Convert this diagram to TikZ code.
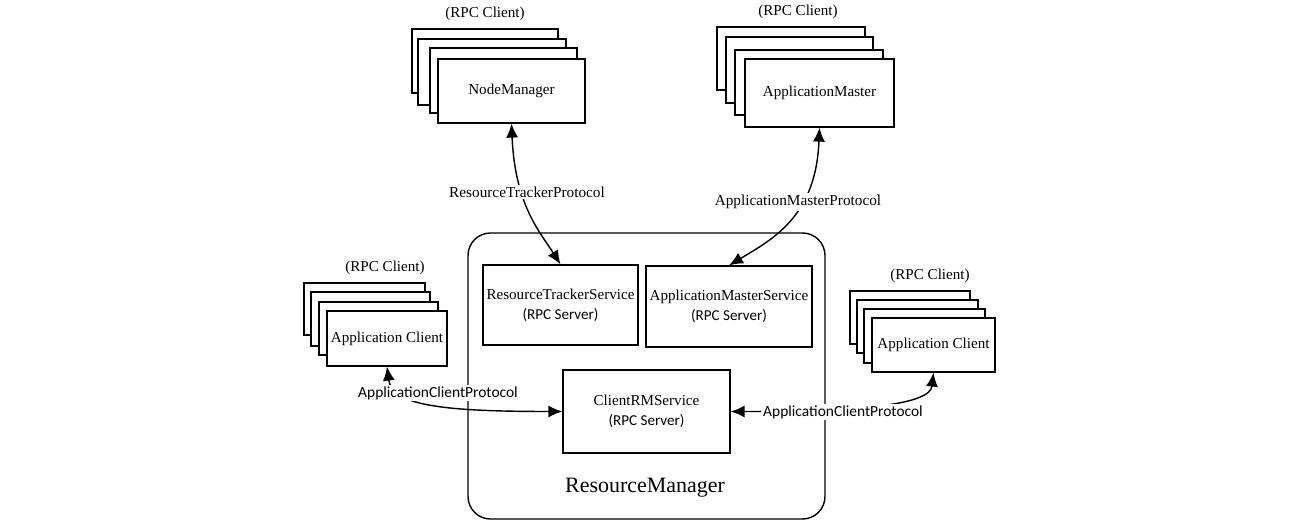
\documentclass[tikz,border=0pt]{standalone}
\usepackage{fontspec}
\setmainfont{Liberation Serif}
\newfontfamily\calib{Carlito}
\usetikzlibrary{arrows.meta}
\begin{document}
\begin{tikzpicture}[x=0.02cm,y=-0.02cm,
  box/.style={draw, line width=0.7pt, fill=white, inner sep=0pt, align=center,
              font=\fontsize{8.6}{11.3}\selectfont},
  wh/.style 2 args={minimum width=#1*0.02cm, minimum height=#2*0.02cm},
  txt/.style={font=\fontsize{8.6}{11.3}\selectfont, inner sep=1pt},
  sanstxt/.style={font=\calib\fontsize{8.8}{11.3}\selectfont, inner sep=1pt, fill=white},
  protolbl/.style={font=\fontsize{8.7}{11.3}\selectfont, inner sep=1pt, fill=white},
  conn/.style={line width=0.8pt, {Latex[length=0.28cm,width=0.24cm]}-{Latex[length=0.28cm,width=0.24cm]}},
  rmbox/.style={draw, line width=0.8pt, rounded corners=0.45cm, inner sep=0pt}]
\useasboundingbox (0,0) rectangle (1296,526);

% ResourceManager container
\node[rmbox, wh={357}{286}] (rm) at (646.5,376) {};
\node[font=\fontsize{12.5}{15}\selectfont] (rmlabel) at (645,488) {ResourceManager};

% Services
\node[box, wh={155}{80}] (rts) at (560.5,305) {ResourceTrackerService\\{\calib (RPC Server)}};
\node[box, wh={166}{81}] (ams) at (729,306.5) {ApplicationMasterService\\{\calib (RPC Server)}};
\node[box, wh={167}{83}] (crm) at (646.5,411.5) {ClientRMService\\{\calib (RPC Server)}};

% NodeManager stack
\node[txt] (nmrpc) at (485,14) {(RPC Client)};
\node[box, wh={146}{64}] (nm1) at (485,61) {};
\node[box, wh={148}{66}] (nm2) at (492,72) {};
\node[box, wh={147}{65}] (nm3) at (503.5,80.5) {};
\node[box, wh={147}{64}] (nm) at (511.5,91) {NodeManager};

% ApplicationMaster stack
\node[txt] (amrpc) at (798,12) {(RPC Client)};
\node[box, wh={148}{63}] (am1) at (791,58.5) {};
\node[box, wh={147}{66}] (am2) at (799.5,70) {};
\node[box, wh={148}{65}] (am3) at (809,82.5) {};
\node[box, wh={149}{68}] (am) at (819.5,93) {ApplicationMaster};

% Left Application Client stack
\node[txt] (aclrpc) at (385,268) {(RPC Client)};
\node[box, wh={121}{52}] (acl1) at (364.5,309) {};
\node[box, wh={119}{54}] (acl2) at (370.5,319) {};
\node[box, wh={119}{53}] (acl3) at (378.5,328.5) {};
\node[box, wh={120}{55}] (acl) at (387,338.5) {Application Client};

% Right Application Client stack
\node[txt] (acrrpc) at (930,276) {(RPC Client)};
\node[box, wh={120}{53}] (acr1) at (910,317.5) {};
\node[box, wh={121}{53}] (acr2) at (917.5,326.5) {};
\node[box, wh={121}{54}] (acr3) at (924.5,336) {};
\node[box, wh={123}{54}] (acr) at (933.5,345) {Application Client};

% Connectors
\draw[conn] (nm.south) .. controls (515,205) and (540,232) .. (rts.north);
\draw[conn] (am.south) .. controls (816,215) and (775,238) .. (ams.north);
\draw[conn] (acl.south) .. controls (392,405) and (440,411.5) .. (crm.west);
\draw[conn] (acr.south) .. controls (930,405) and (860,411.5) .. (crm.east);

% Protocol labels
\node[protolbl] (rtp) at (527,192) {ResourceTrackerProtocol};
\node[protolbl] (amp) at (798,202) {ApplicationMasterProtocol};
\node[sanstxt] (acpl) at (438,393) {ApplicationClientProtocol};
\node[sanstxt] (acpr) at (843,412) {ApplicationClientProtocol};
\end{tikzpicture}
\end{document}
